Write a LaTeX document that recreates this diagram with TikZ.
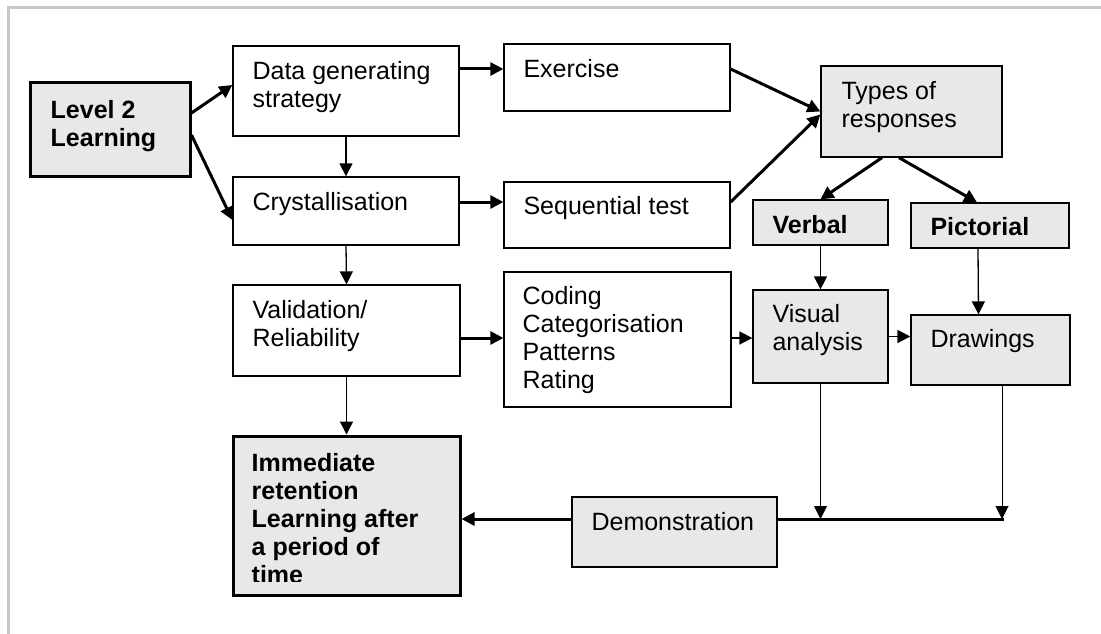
\documentclass[tikz,border=0pt]{standalone}
\usepackage{fontspec}
\setmainfont{Liberation Sans}
\usetikzlibrary{arrows.meta,calc}
\definecolor{boxgray}{RGB}{232,232,232}
\definecolor{framegray}{RGB}{200,200,200}
\begin{document}
\begin{tikzpicture}[x=1pt,y=-1pt,
  wbox/.style={draw=black,line width=1.3pt,rectangle,inner sep=0pt,fill=white},
  gbox/.style={wbox,fill=boxgray},
  tbox/.style={gbox,line width=3pt},
  txt/.style={anchor=north west,inner sep=0pt,align=left,font=\fontsize{25}{28}\selectfont},
  btxt/.style={txt,font=\fontsize{25}{28}\selectfont\bfseries},
  tip/.style={-{Triangle[length=13pt,width=13pt]}},
  thickarrow/.style={line width=3pt,tip},
  thinarrow/.style={line width=1.3pt,tip},
  hairarrow/.style={line width=1pt,tip},
]
\useasboundingbox (0,0) rectangle (1101,634);
\fill[white] (0,0) rectangle (1101,634);
\draw[framegray,line width=3pt] (8.5,634) -- (8.5,8) -- (1101,8);

% boxes
\node[tbox,minimum width=160,minimum height=93] (lvl) at (110,129.5) {};
\node[wbox,minimum width=226,minimum height=90] (dat) at (346,91) {};
\node[wbox,minimum width=226,minimum height=68] (crys) at (346,211) {};
\node[wbox,minimum width=227,minimum height=91] (val) at (346.5,330.5) {};
\node[tbox,minimum width=227,minimum height=159] (imm) at (346.5,515.5) {};
\node[wbox,minimum width=226,minimum height=67] (ex) at (617,77.5) {};
\node[wbox,minimum width=226,minimum height=66] (seq) at (617,215) {};
\node[wbox,minimum width=227,minimum height=135] (cod) at (617.5,339.5) {};
\node[gbox,minimum width=181,minimum height=91] (typ) at (911.5,111.5) {};
\node[gbox,minimum width=135,minimum height=45] (verb) at (820.5,222.5) {};
\node[gbox,minimum width=158,minimum height=45] (pic) at (990,225.5) {};
\node[gbox,minimum width=135,minimum height=93] (vis) at (820.5,336.5) {};
\node[gbox,minimum width=159,minimum height=70] (drw) at (990.5,350) {};
\node[gbox,minimum width=205,minimum height=70] (demo) at (674.5,532) {};

% texts
\node[btxt] (tlvl) at ([xshift=22pt,yshift=-19pt]lvl.north west) {Level 2\\Learning};
\node[txt] (tdat) at ([xshift=20pt,yshift=-16pt]dat.north west) {Data generating\\strategy};
\node[txt] (tcrys) at ([xshift=20pt,yshift=-16pt]crys.north west) {Crystallisation};
\node[txt] (tval) at ([xshift=20pt,yshift=-16pt]val.north west) {Validation/\\Reliability};
\begin{scope}
\clip (233,436) rectangle (460,581);
\node[btxt] (timm) at ([xshift=20pt,yshift=-19pt]imm.north west) {Immediate\\retention\\Learning after\\a period of\\time};
\end{scope}
\node[txt] (tex) at ([xshift=20pt,yshift=-16pt]ex.north west) {Exercise};
\node[txt] (tseq) at ([xshift=20pt,yshift=-15pt]seq.north west) {Sequential test};
\node[txt] (tcod) at ([xshift=19pt,yshift=-15pt]cod.north west) {Coding\\Categorisation\\Patterns\\Rating};
\node[txt] (ttyp) at ([xshift=21pt,yshift=-16pt]typ.north west) {Types of\\responses};
\node[btxt] (tverb) at ([xshift=20pt,yshift=-16pt]verb.north west) {Verbal};
\node[btxt] (tpic) at ([xshift=20pt,yshift=-15pt]pic.north west) {Pictorial};
\node[txt] (tvis) at ([xshift=20pt,yshift=-15pt]vis.north west) {Visual\\analysis};
\node[txt] (tdrw) at ([xshift=20pt,yshift=-15pt]drw.north west) {Drawings};
\node[txt] (tdemo) at ([xshift=20pt,yshift=-16pt]demo.north west) {Demonstration};

% connectors
\draw[thickarrow] ([yshift=16.5pt]lvl.east) -- ([yshift=6pt]dat.west);
\draw[thickarrow] ([yshift=-5.5pt]lvl.east) -- ([yshift=-9pt]crys.west);
\draw[thinarrow] (dat.south) -- (crys.north);
\draw[thinarrow] (crys.south) -- (val.north);
\draw[thinarrow] (val.south) -- (imm.north);
\draw[thickarrow] ([yshift=22pt]dat.east) -- ([yshift=22pt]dat.east -| ex.west);
\draw[thickarrow] ([yshift=9pt]crys.east) -- ([yshift=9pt]crys.east -| seq.west);
\draw[thickarrow] ([yshift=-7.5pt]val.east) -- ([yshift=-7.5pt]val.east -| cod.west);
\draw[thickarrow] ([yshift=8.5pt]ex.east) -- ([yshift=0pt]typ.west);
\draw[thickarrow] ([yshift=13pt]seq.east) -- ([yshift=-3pt]typ.west);
\draw[thickarrow] ([xshift=-29.5pt]typ.south) -- (verb.north);
\draw[thickarrow] ([xshift=-12.5pt]typ.south) -- ([xshift=-13pt]pic.north);
\draw[thinarrow] (verb.south) -- (vis.north);
\draw[thinarrow] ([xshift=-12pt]pic.south) -- ([xshift=-12pt]drw.north);
\draw[line width=1.6pt,tip] ([yshift=1.5pt]cod.east) -- ([yshift=1.5pt]cod.east -| vis.west);
\draw[line width=1.6pt,tip] (vis.east) -- (vis.east -| drw.west);
\coordinate (bus) at (1002,519);
\draw[hairarrow] (vis.south) -- (vis.south |- bus);
\draw[hairarrow] ([xshift=11.5pt]drw.south) -- ([xshift=11.5pt]drw.south |- bus);
\draw[line width=3pt] (demo.east |- bus) -- ([xshift=1.5pt]bus);
\draw[thickarrow] (demo.west |- bus) -- (imm.east |- bus);
\end{tikzpicture}
\end{document}
